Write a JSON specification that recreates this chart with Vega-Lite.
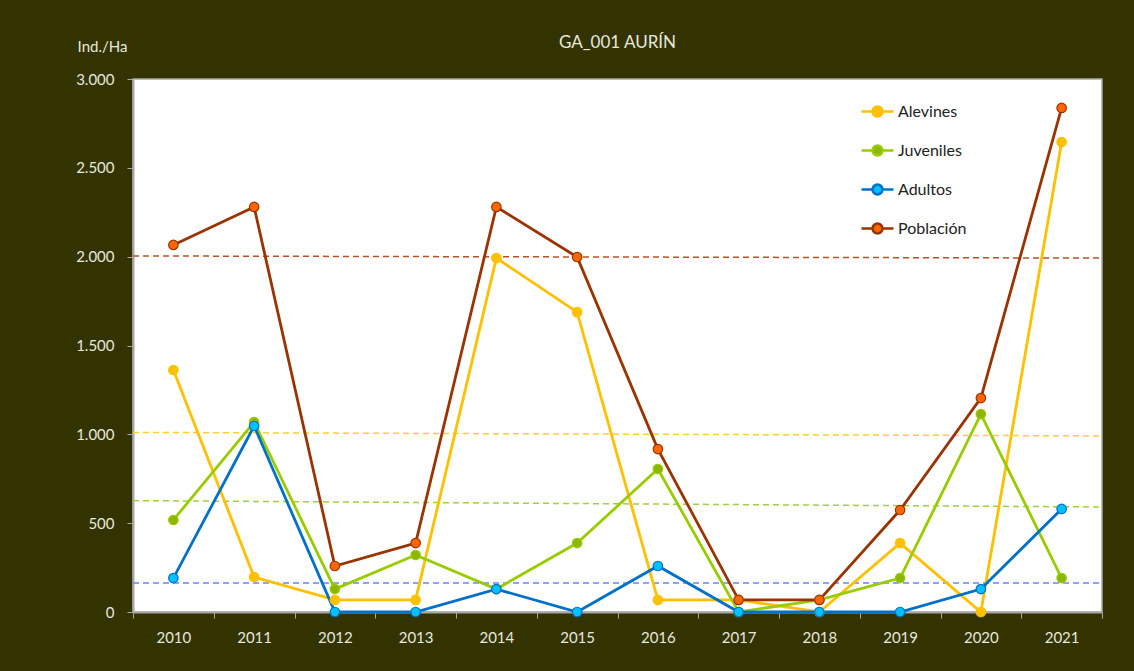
{
  "$schema": "https://vega.github.io/schema/vega-lite/v6.json",
  "width": 969,
  "height": 533,
  "autosize": "none",
  "padding": {"left": 133, "top": 79, "right": 32, "bottom": 59},
  "background": "#333300",
  "title": {
    "text": "GA_001 AURÍN",
    "color": "#e8e8dc",
    "font": "Lato",
    "fontSize": 17,
    "fontWeight": "normal",
    "anchor": "middle",
    "offset": -13
  },
  "config": {
    "font": "Lato",
    "view": {"fill": "white", "stroke": "#a8a8a8", "strokeWidth": 1.5},
    "axis": {
      "labelColor": "#e8e8dc",
      "labelFont": "Lato",
      "labelFontSize": 15,
      "domainColor": "#a8a8a8",
      "domainWidth": 2,
      "tickColor": "#a8a8a8",
      "grid": false
    },
    "legend": {
      "orient": "none",
      "legendX": 727,
      "legendY": 15,
      "padding": 0,
      "symbolType": "M-1,0L-0.31,0M0.31,0L1,0M-0.31,0A0.31,0.31,0,1,1,0.31,0A0.31,0.31,0,1,1,-0.31,0Z",
      "symbolSize": 1024,
      "symbolStrokeWidth": 2.5,
      "labelFontSize": 16,
      "labelColor": "#222222",
      "labelFont": "Lato",
      "labelOffset": 3,
      "rowPadding": 11,
      "labelLimit": 200
    }
  },
  "datasets": {
    "series": [
      {"serie": "Alevines", "year": 2010, "value": 1362},
      {"serie": "Alevines", "year": 2011, "value": 197},
      {"serie": "Alevines", "year": 2012, "value": 68},
      {"serie": "Alevines", "year": 2013, "value": 68},
      {"serie": "Alevines", "year": 2014, "value": 1992},
      {"serie": "Alevines", "year": 2015, "value": 1688},
      {"serie": "Alevines", "year": 2016, "value": 68},
      {"serie": "Alevines", "year": 2017, "value": 68},
      {"serie": "Alevines", "year": 2018, "value": 0},
      {"serie": "Alevines", "year": 2019, "value": 388},
      {"serie": "Alevines", "year": 2020, "value": 0},
      {"serie": "Alevines", "year": 2021, "value": 2645},
      {"serie": "Juveniles", "year": 2010, "value": 518},
      {"serie": "Juveniles", "year": 2011, "value": 1069},
      {"serie": "Juveniles", "year": 2012, "value": 129},
      {"serie": "Juveniles", "year": 2013, "value": 321},
      {"serie": "Juveniles", "year": 2014, "value": 129},
      {"serie": "Juveniles", "year": 2015, "value": 388},
      {"serie": "Juveniles", "year": 2016, "value": 805},
      {"serie": "Juveniles", "year": 2017, "value": 0},
      {"serie": "Juveniles", "year": 2018, "value": 68},
      {"serie": "Juveniles", "year": 2019, "value": 191},
      {"serie": "Juveniles", "year": 2020, "value": 1114},
      {"serie": "Juveniles", "year": 2021, "value": 191},
      {"serie": "Adultos", "year": 2010, "value": 191},
      {"serie": "Adultos", "year": 2011, "value": 1047},
      {"serie": "Adultos", "year": 2012, "value": 0},
      {"serie": "Adultos", "year": 2013, "value": 0},
      {"serie": "Adultos", "year": 2014, "value": 129},
      {"serie": "Adultos", "year": 2015, "value": 0},
      {"serie": "Adultos", "year": 2016, "value": 259},
      {"serie": "Adultos", "year": 2017, "value": 0},
      {"serie": "Adultos", "year": 2018, "value": 0},
      {"serie": "Adultos", "year": 2019, "value": 0},
      {"serie": "Adultos", "year": 2020, "value": 129},
      {"serie": "Adultos", "year": 2021, "value": 580},
      {"serie": "Población", "year": 2010, "value": 2066},
      {"serie": "Población", "year": 2011, "value": 2280},
      {"serie": "Población", "year": 2012, "value": 259},
      {"serie": "Población", "year": 2013, "value": 388},
      {"serie": "Población", "year": 2014, "value": 2280},
      {"serie": "Población", "year": 2015, "value": 1998},
      {"serie": "Población", "year": 2016, "value": 917},
      {"serie": "Población", "year": 2017, "value": 68},
      {"serie": "Población", "year": 2018, "value": 68},
      {"serie": "Población", "year": 2019, "value": 574},
      {"serie": "Población", "year": 2020, "value": 1204},
      {"serie": "Población", "year": 2021, "value": 2837}
    ],
    "trend": [
      {"serie": "Alevines", "year": 2009.5, "value": 1011},
      {"serie": "Alevines", "year": 2021.5, "value": 991},
      {"serie": "Juveniles", "year": 2009.5, "value": 627},
      {"serie": "Juveniles", "year": 2021.5, "value": 591},
      {"serie": "Adultos", "year": 2009.5, "value": 163},
      {"serie": "Adultos", "year": 2021.5, "value": 163},
      {"serie": "Población", "year": 2009.5, "value": 2004},
      {"serie": "Población", "year": 2021.5, "value": 1992}
    ]
  },
  "encoding": {
    "x": {
      "field": "year",
      "type": "quantitative",
      "scale": {"domain": [2009.5, 2021.5], "nice": false, "zero": false},
      "axis": {
        "title": null,
        "values": [2009.5, 2010, 2010.5, 2011, 2011.5, 2012, 2012.5, 2013, 2013.5, 2014, 2014.5, 2015, 2015.5, 2016, 2016.5, 2017, 2017.5, 2018, 2018.5, 2019, 2019.5, 2020, 2020.5, 2021, 2021.5],
        "labelExpr": "datum.value % 1 === 0 ? '' + datum.value : ''",
        "labelOverlap": false,
        "labelPadding": 12,
        "tickSize": 6,
        "tickColor": {"condition": {"test": "datum.value % 1 !== 0", "value": "#a8a8a8"}, "value": "transparent"}
      }
    },
    "y": {
      "field": "value",
      "type": "quantitative",
      "scale": {"domain": [0, 3000], "nice": false},
      "axis": {
        "values": [0, 500, 1000, 1500, 2000, 2500, 3000],
        "labelExpr": "replace(format(datum.value, ','), ',', '.')",
        "labelPadding": 13,
        "tickSize": 6,
        "title": "Ind./Ha",
        "titleAngle": 0,
        "titleAlign": "center",
        "titleBaseline": "middle",
        "titleX": -31,
        "titleY": -33,
        "titleColor": "#e8e8dc",
        "titleFont": "Lato",
        "titleFontSize": 15,
        "titleFontWeight": "normal"
      }
    }
  },
  "layer": [
    {
      "data": {"name": "trend"},
      "mark": {"type": "line", "strokeDash": [6, 4], "strokeWidth": 1.5},
      "encoding": {
        "color": {
          "field": "serie",
          "type": "nominal",
          "scale": {"domain": ["Alevines", "Juveniles", "Adultos", "Población"], "range": ["#FFD030", "#A0D040", "#6688FF", "#B8512A"]},
          "legend": null
        }
      }
    },
    {
      "data": {"name": "series"},
      "mark": {"type": "line", "strokeWidth": 2.8},
      "encoding": {
        "color": {
          "field": "serie",
          "type": "nominal",
          "scale": {"domain": ["Alevines", "Juveniles", "Adultos", "Población"], "range": ["#FFC000", "#99CC00", "#0070C8", "#993300"]},
          "legend": null
        }
      }
    },
    {
      "data": {"name": "series"},
      "mark": {"type": "point", "filled": true, "size": 90, "strokeWidth": 1.2, "opacity": 1},
      "encoding": {
        "fill": {
          "field": "serie",
          "type": "nominal",
          "scale": {"domain": ["Alevines", "Juveniles", "Adultos", "Población"], "range": ["#FFC000", "#8DB600", "#00C0FF", "#FF6600"]},
          "legend": {"title": null}
        },
        "stroke": {
          "field": "serie",
          "type": "nominal",
          "scale": {"domain": ["Alevines", "Juveniles", "Adultos", "Población"], "range": ["#FFC000", "#99CC00", "#0070C8", "#993300"]},
          "legend": {"title": null}
        }
      }
    }
  ],
  "resolve": {"scale": {"color": "independent"}}
}
